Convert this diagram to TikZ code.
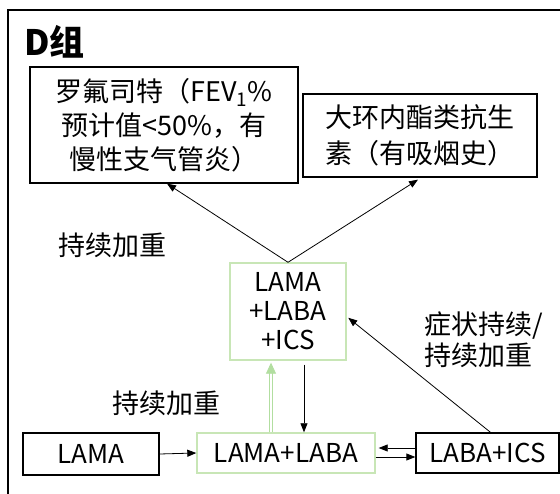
\documentclass[tikz,border=0pt]{standalone}
\usepackage{fontspec}
\setmainfont{Noto Sans CJK SC}
\usetikzlibrary{arrows.meta}
\definecolor{boxgreen}{RGB}{200,230,182}
\definecolor{arrgreen}{RGB}{178,222,160}
\tikzset{
  txt/.style={font=\fontsize{27}{34}\selectfont, inner sep=0pt},
  blackbox/.style={txt, draw=black, line width=1.3pt, align=center},
  greenbox/.style={txt, draw=boxgreen, line width=1.4pt, align=center},
  conn/.style={line width=0.8pt, -{Triangle[length=9pt,width=7pt]}},
}
\begin{document}
\begin{tikzpicture}[x=1pt,y=-1pt]
\useasboundingbox (0,0) rectangle (560,494);
\fill[white] (0,0) rectangle (560,494);
% outer frame (cut off at right and bottom)
\draw[line width=1.6pt] (560,10) -- (8,10) -- (8,494);
% title
\node[anchor=west, inner sep=0pt, font=\fontsize{35}{38}\selectfont\bfseries] (title) at (24,41.5) {D组};
% boxes
\node[blackbox, minimum width=268pt, minimum height=116pt] (b1) at (164,125)
  {罗氟司特（FEV\textsubscript{1}\%\\预计值<50\%，有\\慢性支气管炎）};
\node[blackbox, minimum width=234pt, minimum height=83pt, font=\fontsize{27}{36}\selectfont] (b2) at (420,135.5)
  {大环内酯类抗生\\素（有吸烟史）};
\node[greenbox, minimum width=116pt, minimum height=97pt, font=\fontsize{26}{29}\selectfont] (t) at (288,311.5)
  {LAMA\\+LABA\\+ICS};
\node[blackbox, minimum width=136pt, minimum height=42pt, font=\fontsize{26}{29}\selectfont] (lama) at (91,454) {LAMA};
\node[greenbox, minimum width=178pt, minimum height=40pt, font=\fontsize{26}{29}\selectfont] (ll) at (286,453) {LAMA+LABA};
\node[blackbox, minimum width=143pt, minimum height=40pt, font=\fontsize{26}{29}\selectfont] (li) at (487.5,453) {LABA+ICS};
% labels
\node[txt] (l1) at (112,245) {持续加重};
\node[txt] (l2) at (166,403) {持续加重};
\node[txt, align=left, font=\fontsize{27}{31}\selectfont] (l3) at (484,340) {症状持续/\\持续加重};
% connectors
\draw[conn] (t.north) -- ([xshift=3pt]b1.south);
\draw[conn] (t.north) -- ([xshift=-2pt,yshift=-2pt]b2.south);
\draw[line width=0.8pt, draw=arrgreen, double=white, double distance=2.6pt,
      -{Triangle[length=11pt,width=10pt,fill=arrgreen]}]
  ([xshift=-15pt]ll.north) -- ([xshift=-15pt,yshift=-2pt]ll.north |- t.south);
\draw[conn, shorten <=4pt] ([xshift=16pt]t.south) -- ([xshift=16pt]t.south |- ll.north);
\draw[conn] (lama.east) -- (ll.west);
\draw[conn, shorten >=3pt] ([yshift=5pt]li.west) -- ([yshift=5pt]li.west -| ll.east);
\draw[conn] ([yshift=-4pt]ll.east) -- ([yshift=-4pt]ll.east -| li.west);
\draw[conn, shorten >=2pt] ([xshift=3pt]li.north) -- ([yshift=-5pt]t.east);
\end{tikzpicture}
\end{document}
